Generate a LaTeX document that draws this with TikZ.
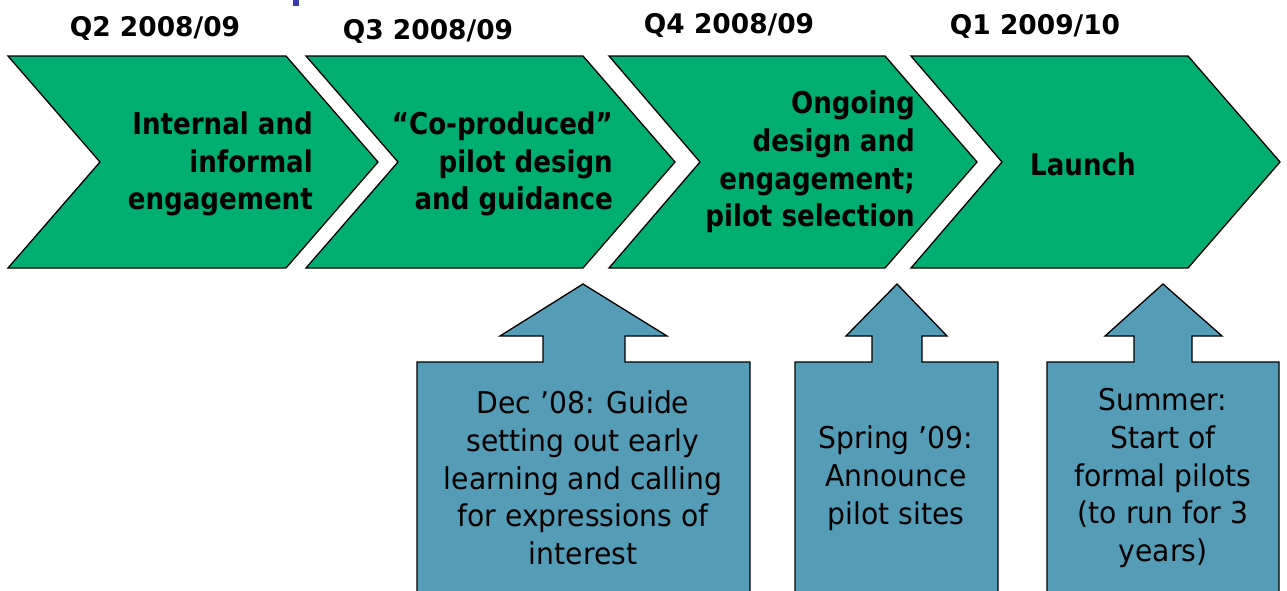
\documentclass[tikz,border=0pt]{standalone}
\usepackage{fontspec}
\newfontfamily\tah[FakeStretch=0.94,BoldFeatures={FakeStretch=0.87}]{DejaVu Sans}
\newfontfamily\tahq[BoldFeatures={FakeStretch=0.98}]{DejaVu Sans}
\definecolor{chevgreen}{RGB}{0,174,114}
\definecolor{callblue}{RGB}{85,157,182}
\definecolor{titleblue}{RGB}{58,58,176}
\tikzset{
  chev/.style={fill=chevgreen,draw=black,line width=1.3pt,line join=miter},
  callout/.style={fill=callblue,draw=black,line width=1.3pt,line join=miter},
  chevtext/.style={inner sep=0pt,align=right,font=\tah\bfseries\fontsize{30}{37.8}\selectfont},
  calltext/.style={inner sep=0pt,align=center,font=\tah\fontsize{30}{37.8}\selectfont},
  qlabel/.style={inner sep=0pt,font=\tahq\bfseries\fontsize{27}{33}\selectfont},
}
\begin{document}
\begin{tikzpicture}[x=1pt,y=-1pt]
\useasboundingbox (0,0) rectangle (1287,590);
\clip (0,0) rectangle (1287,590);
\fill[titleblue] (293,-2) rectangle (299,6);
% chevrons
\draw[chev] (8,56) -- (286,56) -- (378,162) -- (286,268) -- (8,268) -- (100,162) -- cycle;
\draw[chev] (306,56) -- (583,56) -- (675,162) -- (583,268) -- (306,268) -- (398,162) -- cycle;
\draw[chev] (609,56) -- (885,56) -- (977,162) -- (885,268) -- (609,268) -- (700,162) -- cycle;
\draw[chev] (911,56) -- (1188,56) -- (1280,162) -- (1188,268) -- (911,268) -- (1002,162) -- cycle;
% callouts
\draw[callout] (417,600) -- (417,362) -- (543,362) -- (543,336) -- (500,336) -- (583,284) -- (667,336) -- (625,336) -- (625,362) -- (750,362) -- (750,600);
\draw[callout] (795,600) -- (795,362) -- (872,362) -- (872,336) -- (846,336) -- (897,284) -- (947,336) -- (922,336) -- (922,362) -- (998,362) -- (998,600);
\draw[callout] (1047,600) -- (1047,362) -- (1134,362) -- (1134,336) -- (1105,336) -- (1163,284) -- (1222,336) -- (1192,336) -- (1192,362) -- (1279,362) -- (1279,600);
% quarter labels
\node[qlabel] (q2) at (155,28) {Q2 2008/09};
\node[qlabel] (q3) at (428,31) {Q3 2008/09};
\node[qlabel] (q4) at (729,25) {Q4 2008/09};
\node[qlabel] (q1) at (1035,26) {Q1 2009/10};
% chevron texts
\node[chevtext,anchor=east] (t1) at (313,164) {Internal and\\informal\\engagement};
\node[chevtext,anchor=east] (t2) at (613,164) {“Co-produced”\\pilot design\\and guidance};
\node[chevtext,anchor=east] (t3) at (915,162) {Ongoing\\design and\\engagement;\\pilot selection};
\node[chevtext,anchor=west] (t4) at (1030,164) {Launch};
% callout texts
\node[calltext] (c1) at (583,478) {Dec ’08: Guide\\setting out early\\learning and calling\\for expressions of\\interest};
\node[calltext] (c2) at (896,478) {Spring ’09:\\Announce\\pilot sites};
\node[calltext] (c3) at (1163,478) {Summer:\\Start of\\formal pilots\\(to run for 3\\years)};
\end{tikzpicture}
\end{document}
